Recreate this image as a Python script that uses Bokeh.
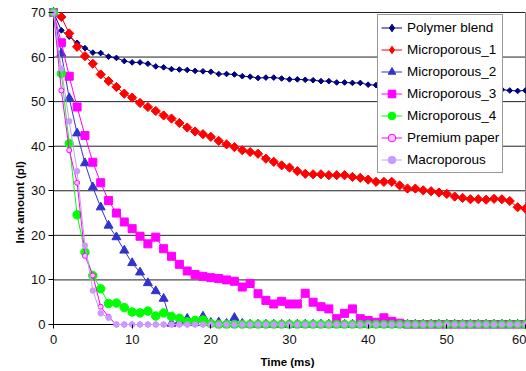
import math
from bokeh.plotting import figure
from bokeh.models import Range1d, Legend, LegendItem, Title
from bokeh.embed import file_html
from bokeh.resources import INLINE

# ---------------- data ----------------
time_ms = list(range(0, 61))

polymer_blend = [70.0, 66.0, 64.6, 63.2, 62.0, 61.0, 60.9, 60.1, 59.8, 59.1,
                 58.8, 58.8, 58.5, 57.9, 57.7, 57.3, 57.2, 57.1, 56.9, 56.8,
                 56.7, 56.2, 56.2, 56.1, 55.7, 55.6, 55.3, 55.4, 55.4, 55.2,
                 55.0, 55.0, 54.9, 54.8, 54.6, 54.6, 54.3, 54.3, 54.2, 54.2,
                 53.8, 53.7, 53.7, 53.6, 53.5, 53.5, 53.4, 53.3, 53.3, 53.2,
                 53.1, 53.1, 53.0, 52.9, 52.9, 52.8, 52.8, 52.7, 52.5, 52.4,
                 52.5]

microporous_1 = [70.0, 69.0, 65.3, 62.3, 60.2, 58.5, 56.1, 54.6, 53.3, 51.8,
                 50.9, 49.7, 48.8, 47.9, 46.9, 46.2, 45.2, 44.2, 43.3, 42.7,
                 42.1, 41.2, 40.4, 39.8, 39.1, 38.7, 38.3, 37.2, 36.5, 35.7,
                 35.2, 34.4, 33.8, 33.7, 33.7, 33.5, 33.5, 33.5, 33.1, 32.9,
                 32.5, 32.0, 32.0, 32.0, 31.2, 30.5, 30.5, 30.1, 29.9, 29.6,
                 29.3, 28.7, 28.4, 28.1, 28.1, 28.0, 28.2, 28.1, 27.7, 26.3,
                 26.0]

microporous_2 = [70.0, 60.8, 50.8, 42.9, 36.2, 30.8, 26.3, 22.2, 19.6, 16.6,
                 13.8, 11.7, 9.3, 7.5, 5.8, 0.2, 0.5, 1.3, 0.4, 1.8,
                 0.4, 0.5, 0.2, 1.5, 0.2, 0.0, 0.0, 0.0, 0.0, 0.0,
                 0.0, 0.0, 0.0, 0.0, 0.0, 0.0, 0.0, 0.0, 0.0, 0.0,
                 0.0, 0.0, 0.0, 0.0, 0.0, 0.0, 0.0, 0.0, 0.0, 0.0,
                 0.0, 0.0, 0.0, 0.0, 0.0, 0.0, 0.0, 0.0, 0.0, 0.0,
                 0.0]

microporous_3 = [70.0, 63.2, 55.7, 48.8, 42.4, 36.4, 31.8, 27.8, 25.0, 23.0,
                 21.5, 19.8, 18.1, 19.6, 17.0, 15.3, 13.5, 12.0, 11.2, 10.8,
                 10.5, 10.3, 10.0, 9.7, 8.4, 9.2, 6.9, 5.4, 4.6, 5.2,
                 4.6, 4.6, 7.0, 5.0, 4.0, 3.5, 1.3, 2.5, 3.5, 1.3,
                 0.9, 0.5, 1.5, 0.7, 0.3, 0.0, 0.0, 0.0, 0.0, 0.0,
                 0.0, 0.0, 0.0, 0.0, 0.0, 0.0, 0.0, 0.0, 0.0, 0.0,
                 0.0]

microporous_4 = [70.0, 56.3, 40.6, 24.6, 16.2, 11.0, 8.0, 4.7, 4.8, 3.8,
                 2.8, 2.6, 3.0, 1.9, 2.6, 1.8, 1.4, 0.6, 0.9, 1.0,
                 0.2, 0.0, 0.0, 0.0, 0.0, 0.0, 0.0, 0.0, 0.0, 0.0,
                 0.0, 0.0, 0.0, 0.0, 0.0, 0.0, 0.0, 0.0, 0.0, 0.0,
                 0.0, 0.0, 0.0, 0.0, 0.0, 0.0, 0.0, 0.0, 0.0, 0.0,
                 0.0, 0.0, 0.0, 0.0, 0.0, 0.0, 0.0, 0.0, 0.0, 0.0,
                 0.0]

premium_paper = [70.0, 52.5, 39.1, 31.8, 15.4, 11.0, 4.0, 1.7, 0.0, 0.0,
                 0.0, 0.0, 0.0, 0.0, 0.0, 0.0, 0.0, 0.0, 0.0, 0.0,
                 0.0, 0.0, 0.0, 0.0, 0.0, 0.0, 0.0, 0.0, 0.0, 0.0,
                 0.0, 0.0, 0.0, 0.0, 0.0, 0.0, 0.0, 0.0, 0.0, 0.0,
                 0.0, 0.0, 0.0, 0.0, 0.0, 0.0, 0.0, 0.0, 0.0, 0.0,
                 0.0, 0.0, 0.0, 0.0, 0.0, 0.0, 0.0, 0.0, 0.0, 0.0,
                 0.0]

macroporous = [70.0, 57.4, 45.6, 34.4, 17.7, 7.6, 2.5, 1.5, 0.0, 0.0,
               0.0, 0.0, 0.0, 0.0, 0.0, 0.0, 0.0, 0.0, 0.0, 0.0,
               0.0, 0.0, 0.0, 0.0, 0.0, 0.0, 0.0, 0.0, 0.0, 0.0,
               0.0, 0.0, 0.0, 0.0, 0.0, 0.0, 0.0, 0.0, 0.0, 0.0,
               0.0, 0.0, 0.0, 0.0, 0.0, 0.0, 0.0, 0.0, 0.0, 0.0,
               0.0, 0.0, 0.0, 0.0, 0.0, 0.0, 0.0, 0.0, 0.0, 0.0,
               0.0]

x_ticks = [0, 10, 20, 30, 40, 50, 60]
y_ticks = [0, 10, 20, 30, 40, 50, 60, 70]
x_title = "Time (ms)"
y_title = "Ink amount (pl)"

FONT = "Liberation Sans"

p = figure(width=526, height=371,
           x_range=Range1d(-0.635, 60.127), y_range=Range1d(-0.9, 72.69),
           output_backend="svg", toolbar_location=None, title=None,
           min_border_left=48, min_border_right=0,
           min_border_top=0, min_border_bottom=43)
p.background_fill_color = "white"
p.border_fill_color = "white"
p.outline_line_color = None
p.xgrid.visible = False
p.ygrid.visible = False

# gridlines (from y ticks)
grid_y = [v for v in y_ticks if v > 0]
p.segment(x0=[x_ticks[0]] * len(grid_y), x1=[x_ticks[-1]] * len(grid_y),
          y0=grid_y, y1=grid_y, line_color="#222222", line_width=1)
# plot-area right border
p.segment(x0=[x_ticks[-1]], x1=[x_ticks[-1]], y0=[y_ticks[0]], y1=[y_ticks[-1]],
          line_color="#808080", line_width=1)
# axis lines at zero
p.segment(x0=[x_ticks[0], x_ticks[0]], x1=[x_ticks[-1], x_ticks[0]],
          y0=[y_ticks[0], y_ticks[0]], y1=[y_ticks[0], y_ticks[-1]],
          line_color="black", line_width=1)

# axes
for ax, ticks in ((p.xaxis[0], x_ticks), (p.yaxis[0], y_ticks)):
    ax.ticker = ticks
    ax.axis_line_color = None
    ax.major_tick_line_color = "black"
    ax.major_tick_out = 0
    ax.minor_tick_line_color = None
    ax.major_label_text_font = FONT
    ax.major_label_text_font_size = "13px"
    ax.major_label_text_color = "#111111"
p.xaxis.major_tick_in = 4
p.xaxis.major_label_standoff = 6
p.yaxis.major_tick_in = 5
p.yaxis.major_label_standoff = 3

p.xaxis.axis_label = x_title
p.xaxis.axis_label_text_font = FONT
p.xaxis.axis_label_text_font_size = "11.5px"
p.xaxis.axis_label_text_font_style = "bold"
p.xaxis.axis_label_text_color = "black"
p.xaxis.axis_label_standoff = 9

ytitle = Title(text=y_title, align="left", offset=85, vertical_align="middle",
               text_font=FONT, text_font_size="11.5px", text_font_style="bold",
               text_color="black", standoff=4)
p.add_layout(ytitle, "left")

# name, values, colour, marker, size, angle, fill, marker line, legend marker
series = [
    ("Polymer blend", polymer_blend, "#000080", "square", 4.0, math.pi / 4, "#000080", "#000080", "diamond"),
    ("Microporous_1", microporous_1, "#FF0000", "square", 6.5, math.pi / 4, "#FF0000", "#FF0000", "diamond"),
    ("Microporous_2", microporous_2, "#3333CC", "triangle", 9.0, 0.0, "#3333CC", "#3333CC", "triangle"),
    ("Microporous_3", microporous_3, "#FF00FF", "square", 8.0, 0.0, "#FF00FF", "#FF00FF", "square"),
    ("Microporous_4", microporous_4, "#00FF00", "circle", 8.5, 0.0, "#00FF00", "#00FF00", "circle"),
    ("Premium paper", premium_paper, "#FF00FF", "circle", 5.0, 0.0, "#FFCCFF", "#FF00FF", "circle"),
    ("Macroporous", macroporous, "#CC99FF", "circle", 5.5, 0.0, "#CC99FF", "#CC99FF", "circle"),
]

items = []
for name, vals, col, mk, sz, ang, fill, mline, lmk in series:
    lr = p.line(time_ms, vals, line_color=col, line_width=1)
    sr = p.scatter(time_ms, vals, marker=mk, size=sz, angle=ang,
                   fill_color=fill, line_color=mline, line_width=1)
    if lmk != mk:
        # legend-only proxy (hidden in the plot) so the legend shows a diamond
        proxy = p.scatter(time_ms, vals, marker=lmk, size=sz,
                          fill_color=fill, line_color=mline, line_width=1)
        proxy.visible = False
        items.append(LegendItem(label=name, renderers=[lr, proxy]))
    else:
        items.append(LegendItem(label=name, renderers=[lr, sr]))

legend = Legend(items=items, location=(329, 155))
legend.label_text_font = FONT
legend.label_text_font_size = "13.5px"
legend.label_text_color = "black"
legend.border_line_color = "#333333"
legend.border_line_width = 1
legend.background_fill_color = "white"
legend.background_fill_alpha = 1.0
legend.padding = 3
legend.spacing = 3
legend.margin = 0
legend.glyph_width = 21
legend.glyph_height = 19
legend.label_height = 19
legend.label_standoff = 5
p.add_layout(legend)

open("out.html", "w").write(file_html(p, INLINE))
